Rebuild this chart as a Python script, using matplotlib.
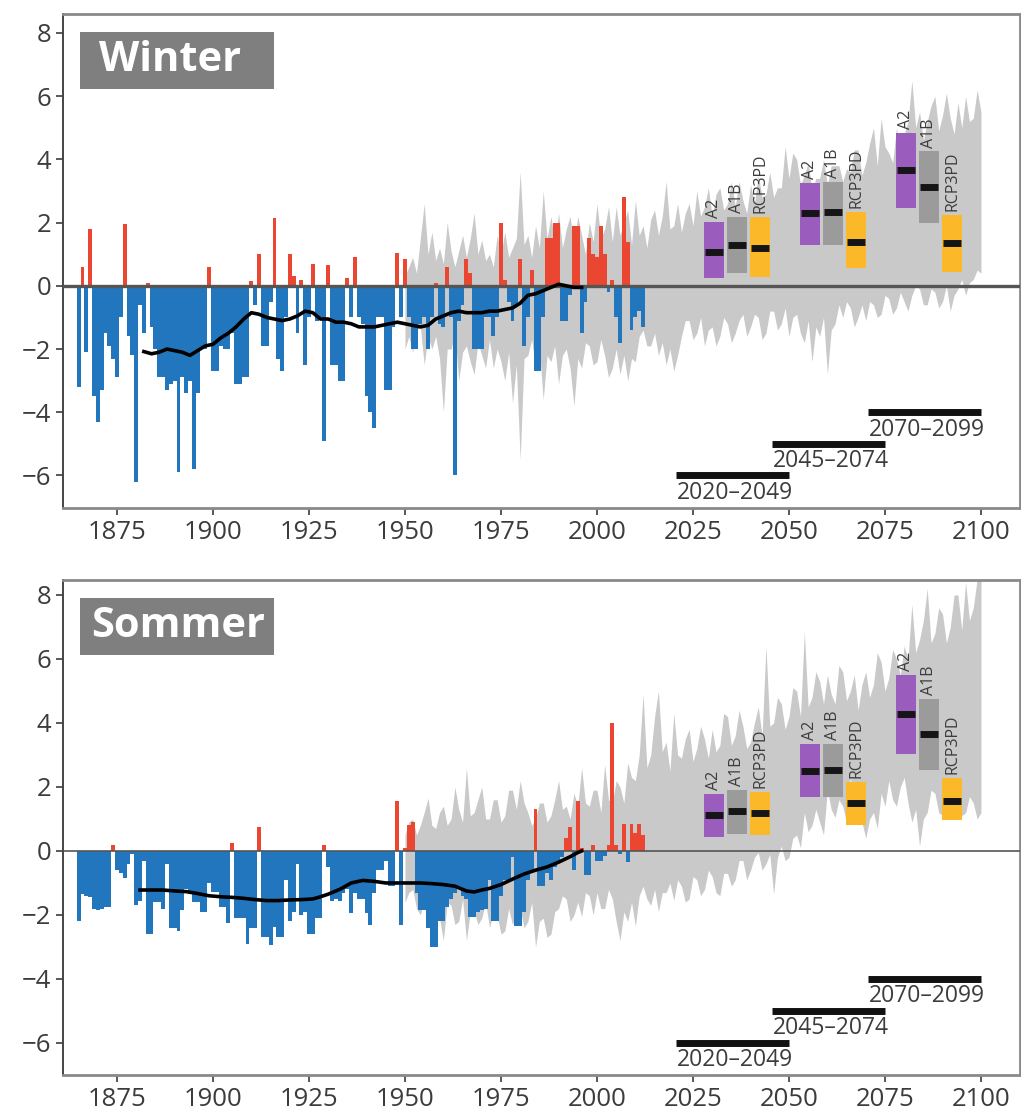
import numpy as np
import matplotlib
matplotlib.use("Agg")
import matplotlib.pyplot as plt
from matplotlib.patches import Rectangle

plt.rcParams['font.family'] = ['Open Sans', 'DejaVu Sans']

# ---- observed seasonal anomalies (deg C), one value per year from 1865 ----
obs_years = list(range(1865, 2013))
winter = [
    -3.2, 0.6, -2.1, 1.8, -3.5, -4.3, -3.3, -1.5, -1.9, -2.3,      # 1865-1874
    -2.9, -1.0, 1.95, -1.6, -2.2, -6.2, -0.6, -1.5, 0.1, -1.3,     # 1875-1884
    -2.0, -2.9, -2.9, -3.3, -3.1, -3.0, -5.9, -2.9, -3.4, -3.0,    # 1885-1894
    -5.8, -3.4, -2.0, -2.0, 0.6, -2.7, -2.7, -1.9, -2.0, -2.0,     # 1895-1904
    -1.5, -3.1, -3.1, -2.9, -2.9, 0.15, -0.6, 1.0, -1.9, -1.9,     # 1905-1914
    -0.5, 2.15, -2.3, -2.7, -1.0, 1.0, 0.3, -1.5, 0.2, -2.5,       # 1915-1924
    -1.0, 0.7, -1.1, -1.0, -4.9, 0.65, -2.5, -2.5, -3.0, -3.0,     # 1925-1934
    0.25, -1.0, 0.9, -1.0, -1.2, -3.5, -4.0, -4.5, -1.0, -1.0,     # 1935-1944
    -3.3, -3.3, -1.3, 1.05, -1.0, 0.85, -1.0, -2.0, -2.0, -1.2,    # 1945-1954
    -1.0, -2.0, -1.0, 0.1, -1.2, -1.3, 0.6, -1.0, -6.0, -1.1,      # 1955-1964
    -0.6, 0.85, 0.4, -2.0, -2.0, -2.0, -1.0, -1.0, -1.6, -1.0,     # 1965-1974
    2.0, 0.2, -0.5, -1.1, -0.6, 0.85, -1.9, -1.0, 0.5, -2.7,       # 1975-1984
    -2.7, -1.0, 1.5, 1.5, 2.0, 2.0, -1.1, -1.1, -0.3, 1.9,         # 1985-1994
    1.9, -1.5, -0.5, 1.5, 1.0, 0.9, 1.9, 1.0, -0.2, 0.2,           # 1995-2004
    -1.0, -1.8, 2.8, 1.4, -1.4, -1.0, -0.8, -1.3,                  # 2005-2012
]
summer = [
    -2.2, -1.35, -1.4, -1.45, -1.8, -1.85, -1.8, -1.75, -1.75, 0.2,   # 1865-1874
    -0.6, -0.7, -0.85, -0.4, -0.1, -1.7, -1.55, -0.3, -2.6, -2.6,     # 1875-1884
    -1.6, -1.6, -1.8, -0.4, -2.4, -2.4, -2.5, -1.85, -1.2, -1.3,      # 1885-1894
    -1.6, -1.6, -1.9, -1.9, -1.0, -1.27, -1.27, -1.75, -1.75, -2.26,  # 1895-1904
    0.25, -2.1, -2.1, -2.1, -2.9, -2.4, -2.4, 0.76, -2.69, -2.69,     # 1905-1914
    -2.95, -2.37, -2.7, -2.7, -0.9, -2.2, -1.9, -0.4, -2.0, -1.9,     # 1915-1924
    -2.6, -2.6, -2.1, -2.1, 0.2, -0.5, -1.55, -1.5, -1.55, -1.3,      # 1925-1934
    -1.2, -1.95, -1.3, -1.5, -1.5, -1.95, -2.3, -1.3, -0.6, -0.6,     # 1935-1944
    -0.3, -1.1, -1.1, 1.55, -2.3, 0.1, 0.8, 0.9, -1.3, -1.85,         # 1945-1954
    -1.85, -2.4, -3.0, -3.0, -2.2, -2.2, -1.75, -1.5, -1.3, -1.2,     # 1955-1964
    -1.4, -1.5, -2.05, -2.05, -1.9, -1.85, -1.8, -0.9, -2.2, -2.2,    # 1965-1974
    -1.4, -0.9, -0.9, -0.2, -2.35, -2.35, -1.9, -0.9, -0.6, 1.3,      # 1975-1984
    -1.1, -1.1, -0.7, -0.9, -0.5, -0.3, -0.2, 0.4, 0.75, -0.6,        # 1985-1994
    1.55, 0.1, -0.75, -0.75, 0.2, -0.3, -0.3, -0.15, 0.2, 4.0,        # 1995-2004
    0.2, -0.1, 0.85, -0.35, 0.85, 0.55, 0.85, 0.5,                    # 2005-2012
]

# ---- smoothed observations ----
w_smooth_years = [1882, 1884, 1886, 1888, 1890, 1892, 1894, 1896, 1898, 1900,
                  1902, 1904, 1906, 1908, 1910, 1912, 1914, 1916, 1918, 1920,
                  1922, 1924, 1926, 1928, 1930, 1932, 1934, 1936, 1938, 1940,
                  1942, 1944, 1946, 1948, 1950, 1952, 1954, 1956, 1958, 1960,
                  1962, 1964, 1966, 1968, 1970, 1972, 1974, 1976, 1978, 1980,
                  1982, 1984, 1986, 1988, 1990, 1992, 1994, 1996]
w_smooth = [-2.08, -2.15, -2.1, -2.0, -2.05, -2.1, -2.2, -2.05, -1.9, -1.85,
            -1.65, -1.5, -1.3, -1.05, -0.85, -0.9, -1.0, -1.05, -1.1, -1.05,
            -0.95, -0.8, -0.85, -1.05, -1.05, -1.15, -1.15, -1.2, -1.3, -1.3,
            -1.3, -1.25, -1.2, -1.15, -1.2, -1.25, -1.3, -1.25, -1.05, -0.95,
            -0.85, -0.8, -0.85, -0.85, -0.85, -0.8, -0.8, -0.75, -0.7, -0.55,
            -0.3, -0.25, -0.15, -0.05, 0.05, 0.0, -0.05, -0.05]
s_smooth_years = [1881, 1884, 1887, 1890, 1893, 1896, 1899, 1902, 1905, 1908,
                  1911, 1914, 1917, 1920, 1923, 1926, 1928, 1930, 1933, 1936,
                  1939, 1942, 1945, 1948, 1951, 1954, 1957, 1960, 1963, 1966,
                  1968, 1970, 1972, 1975, 1978, 1981, 1984, 1987, 1990, 1993,
                  1995, 1996]
s_smooth = [-1.22, -1.22, -1.22, -1.25, -1.27, -1.33, -1.4, -1.43, -1.45, -1.48,
            -1.52, -1.55, -1.55, -1.53, -1.52, -1.5, -1.43, -1.35, -1.2, -1.0,
            -0.92, -0.95, -1.0, -1.0, -1.0, -1.0, -1.02, -1.05, -1.1, -1.25,
            -1.28, -1.22, -1.17, -1.05, -0.88, -0.72, -0.6, -0.5, -0.35, -0.18,
            -0.05, 0.0]

# ---- model ensemble spread (grey band), yearly 1950-2100 ----
band_years = list(range(1950, 2101))
w_upper = [
    0.3, 0.6, 0.9, 0.4, 1.5, 2.6, 1.0, 1.7, 0.8, 1.2,
    0.7, 2.0, 1.1, 0.6, 1.1, 1.6, 0.9, 1.5, 2.3, 1.0,
    1.45, 0.8, 1.0, 0.6, 1.6, 1.0, 1.7, 0.9, 1.2, 1.5,
    3.6, 1.3, 1.6, 0.9, 1.9, 1.2, 3.0, 1.5, 2.2, 1.4,
    2.3, 1.2, 1.8, 2.2, 1.3, 2.2, 1.6, 1.0, 2.0, 1.4,
    2.6, 1.5, 1.8, 2.5, 1.4, 2.5, 1.6, 2.0, 2.4, 1.3,
    2.7, 1.6, 1.9, 1.2, 2.1, 2.4, 1.6, 2.2, 3.3, 1.8,
    1.9, 2.6, 1.7, 2.3, 2.6, 1.9, 3.0, 2.2, 2.5, 3.1,
    2.2, 2.9, 3.1, 2.4, 2.6, 3.3, 2.5, 3.3, 2.7, 2.3,
    3.2, 2.6, 3.5, 2.8, 2.9, 3.6, 2.8, 3.1, 3.1, 4.4,
    3.4, 4.2, 4.0, 3.2, 3.5, 3.9, 3.0, 3.4, 3.4, 4.0,
    3.2, 3.8, 3.8, 3.8, 3.3, 3.7, 3.6, 4.3, 4.3, 3.5,
    3.9, 4.5, 5.0, 3.8, 5.3, 4.4, 4.2, 3.9, 5.0, 4.3,
    4.8, 5.2, 6.5, 5.0, 5.5, 4.6, 5.2, 5.7, 6.0, 4.9,
    5.4, 6.1, 5.3, 4.8, 5.8, 5.0, 6.0, 5.2, 5.3, 6.2,
    5.5]
w_lower = [
    -2.0, -1.6, -2.1, -1.4, -1.3, -2.5, -1.6, -2.0, -1.6, -2.3,
    -4.0, -2.0, -2.0, -1.5, -3.0, -2.1, -1.9, -2.4, -2.8, -1.8,
    -2.2, -2.6, -1.7, -2.6, -2.0, -2.4, -3.0, -2.1, -3.7, -2.5,
    -5.5, -2.3, -2.2, -1.7, -2.6, -2.0, -3.6, -2.2, -2.4, -1.9,
    -3.1, -2.2, -2.0, -2.6, -3.8, -2.3, -2.6, -1.8, -1.9, -2.5,
    -2.4, -1.7, -2.2, -2.9, -2.6, -2.0, -2.8, -2.2, -3.0, -2.3,
    -2.4, -1.6, -1.4, -1.9, -1.9, -1.5, -2.2, -1.8, -2.5, -2.0,
    -2.7, -2.2, -1.6, -1.1, -1.1, -1.7, -1.5, -1.0, -1.9, -1.4,
    -1.3, -1.9, -1.6, -1.0, -1.2, -1.8, -1.5, -1.1, -0.9, -1.6,
    -1.3, -0.9, -1.0, -1.7, -1.5, -0.8, -0.8, -1.4, -1.2, -0.7,
    -1.6, -1.0, -0.9, -1.5, -1.8, -1.1, -2.4, -1.3, -1.6, -1.0,
    -2.8, -1.4, -1.2, -0.6, -1.0, -0.5, -0.7, -1.3, -1.0, -0.6,
    -1.1, -0.5, -0.6, -1.0, -0.9, -0.3, -0.4, -0.9, -0.7, -0.2,
    -0.5, -0.8, -0.3, 0.0, -0.1, -0.6, -0.6, -0.1, -0.2, -0.7,
    -0.5, 0.0, -0.8, -0.3, -0.1, 0.2, -0.3, 0.1, 0.2, 0.5,
    0.4]
s_upper = [
    0.5, 0.9, 1.0, 0.5, 0.8, 1.2, 1.65, 0.8, 0.7, 1.2,
    1.4, 0.8, 1.0, 2.0, 1.3, 0.9, 2.6, 1.1, 1.2, 1.6,
    2.0, 1.0, 1.0, 1.6, 1.6, 0.9, 1.1, 1.9, 1.9, 1.3,
    2.2, 1.5, 1.2, 0.8, 1.0, 1.5, 1.5, 0.9, 1.1, 1.6,
    2.2, 1.3, 1.4, 1.0, 1.8, 1.4, 2.6, 1.5, 1.4, 1.9,
    1.9, 1.2, 2.7, 1.6, 1.5, 2.2, 2.0, 1.5, 2.75, 2.3,
    2.2, 3.0, 4.9, 2.6, 3.0, 4.2, 5.0, 3.1, 3.4, 2.5,
    4.3, 3.0, 2.9, 3.5, 3.8, 2.8, 3.2, 3.9, 3.5, 2.9,
    3.8, 3.1, 3.3, 4.3, 4.2, 3.3, 3.6, 4.4, 3.9, 3.2,
    3.4, 4.0, 4.5, 3.6, 6.4, 3.9, 4.0, 4.8, 4.6, 3.8,
    4.2, 5.1, 5.0, 4.2, 6.85, 4.5, 4.8, 5.6, 5.3, 4.6,
    5.5, 4.9, 4.6, 5.8, 5.6, 4.7, 5.0, 5.5, 4.4, 5.2,
    5.6, 4.8, 5.2, 6.2, 5.9, 5.0, 5.4, 6.3, 6.0, 5.5,
    6.4, 6.0, 7.7, 6.2, 6.6, 7.2, 8.2, 6.5, 6.8, 7.6,
    7.4, 6.5, 7.0, 8.0, 8.0, 6.9, 8.4, 7.2, 7.6, 8.5,
    8.5]
s_lower = [
    -1.6, -1.3, -1.2, -1.8, -2.0, -1.5, -2.2, -1.6, -1.5, -2.1,
    -2.8, -1.6, -1.7, -2.3, -2.2, -1.5, -2.8, -1.9, -1.9, -2.3,
    -2.1, -1.6, -2.4, -1.9, -2.0, -2.6, -2.5, -1.8, -2.3, -2.0,
    -1.8, -2.4, -2.2, -1.6, -3.0, -2.2, -2.1, -2.7, -2.6, -1.9,
    -1.8, -1.4, -1.5, -2.2, -2.0, -1.6, -2.05, -1.3, -1.4, -2.0,
    -1.3, -1.8, -1.8, -1.2, -1.5, -2.2, -2.8, -1.9, -2.2, -1.6,
    -2.35, -1.4, -1.1, -1.5, -1.7, -1.2, -1.9, -1.3, -1.3, -1.0,
    -1.55, -0.9, -1.1, -1.6, -1.5, -0.8, -0.9, -1.4, -1.2, -0.6,
    -0.8, -1.3, -1.4, -0.7, -0.7, -1.1, -0.9, -0.3, -0.3, -0.9,
    -0.6, -0.2, -0.05, -0.6, -0.4, -0.1, -1.35, -0.2, 0.15, -0.3,
    -0.2, 0.4, 0.5, 0.1, 1.2, 0.6, 0.8, 1.3, 0.9, 0.5,
    1.9, 1.3, 1.05, 1.6, 1.4, 0.9, 2.3, 1.4, 1.5, 0.9,
    0.4, 1.0, 1.2, 0.7, 1.8, 1.4, 2.2, 1.6, 1.4, 2.0,
    2.3, 1.5, 0.9, 1.3, 0.15, 1.0, 1.2, 1.9, 1.8, 1.2,
    1.1, 1.6, 1.4, 2.0, 1.6, 1.1, 1.2, 1.7, 1.5, 1.0,
    1.2]

# ---- scenario ranges for the three 30-year periods ----
scenarios = ["A2", "A1B", "RCP3PD"]
period_centres = [2036.5, 2061.5, 2086.5]
# [period][scenario] -> (low, median, high)
w_boxes = [[(0.24, 1.07, 2.03), (0.41, 1.28, 2.19), (0.29, 1.21, 2.19)],
           [(1.30, 2.30, 3.25), (1.30, 2.33, 3.30), (0.56, 1.38, 2.35)],
           [(2.46, 3.65, 4.85), (1.98, 3.14, 4.25), (0.45, 1.35, 2.25)]]
s_boxes = [[(0.44, 1.12, 1.79), (0.54, 1.25, 1.91), (0.49, 1.18, 1.84)],
           [(1.68, 2.49, 3.35), (1.68, 2.54, 3.35), (0.82, 1.49, 2.16)],
           [(3.02, 4.28, 5.50), (2.54, 3.67, 4.74), (0.98, 1.57, 2.27)]]
periods = [(2020, 2049), (2045, 2074), (2070, 2099)]
period_levels = [-6, -5, -4]

RED, BLUE = "#EB4632", "#2176BE"
BAND = "#C9C9C9"
BOX_COLORS = ["#9A5DBE", "#9B9B9B", "#FBB829"]
TXT = "#3C3C3C"


def draw_panel(ax, title, title_x, vals, sm_x, sm_y, upper, lower, boxes,
               zero_lw, ylim):
    ax.fill_between(band_years, lower, upper, color=BAND, lw=0, zorder=1)
    cols = [RED if v > 0 else BLUE for v in vals]
    ax.bar(obs_years, vals, width=1.0, color=cols, lw=0, zorder=2)
    ax.axhline(0, color="#555555", lw=zero_lw, zorder=3)
    ax.plot(sm_x, sm_y, color="black", lw=2.6, zorder=4)

    offs = [-6, 0, 6]
    for pc, grp in zip(period_centres, boxes):
        for k, (lo, med, hi) in enumerate(grp):
            xc = pc + offs[k]
            ax.add_patch(Rectangle((xc - 2.6, lo), 5.2, hi - lo,
                                   color=BOX_COLORS[k], lw=0, zorder=5))
            ax.plot([xc - 2.4, xc + 2.4], [med, med], color="#151515",
                    lw=5, solid_capstyle="butt", zorder=6)
            ax.text(xc, hi + 0.12, scenarios[k], rotation=90, ha="center",
                    va="bottom", fontsize=11.5, color=TXT, zorder=6)

    for (a, b), lev in zip(periods, period_levels):
        ax.plot([a + 0.5, b + 0.9], [lev, lev], color="#111111", lw=5,
                solid_capstyle="butt", zorder=6)
        ax.text(a + 0.7, lev - 0.17, f"{a}\u2013{b}", ha="left", va="top",
                fontsize=16.5, color=TXT, zorder=6)

    ax.add_patch(Rectangle((0.0177, 0.848), 0.2026, 0.1156,
                           transform=ax.transAxes, color="#7F7F7F", lw=0,
                           zorder=7))
    ax.text(title_x, 0.906, title, transform=ax.transAxes, ha="left",
            va="center", fontsize=30, fontweight="bold", color="white",
            zorder=8)

    ax.set_xlim(1860.94, 2110.16)
    ax.set_ylim(*ylim)
    ax.set_xticks(range(1875, 2101, 25))
    ax.set_yticks(range(-6, 9, 2))
    ax.set_yticklabels([f"\u2212{abs(t)}" if t < 0 else str(t)
                        for t in range(-6, 9, 2)])
    ax.tick_params(labelsize=18.5, colors=TXT, length=5, width=1.2,
                   labelcolor=TXT)
    for side in ("top", "bottom", "right"):
        ax.spines[side].set_color("#8A8A8A")
        ax.spines[side].set_linewidth(2.0)
    ax.spines["left"].set_color("#444444")
    ax.spines["left"].set_linewidth(1.4)


fig = plt.figure(figsize=(10.21, 11.2), dpi=100)
ax1 = fig.add_axes([0.0617, 0.5464, 0.9373, 0.4411])
ax2 = fig.add_axes([0.0617, 0.0402, 0.9373, 0.4420])

draw_panel(ax1, "Winter", 0.038, winter, w_smooth_years, w_smooth,
           w_upper, w_lower, w_boxes, 2.4, (-7.03, 8.6))
draw_panel(ax2, "Sommer", 0.029, summer, s_smooth_years, s_smooth,
           s_upper, s_lower, s_boxes, 1.2, (-7.0, 8.47))

fig.savefig("out.png", dpi=100)
